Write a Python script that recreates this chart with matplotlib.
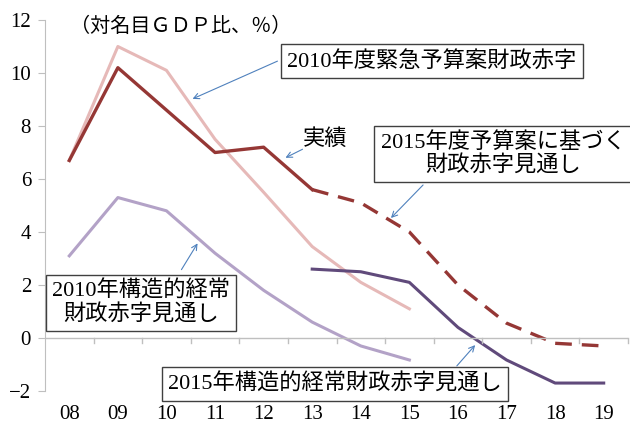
import numpy as np
import matplotlib
matplotlib.use('Agg')
import matplotlib.pyplot as plt

plt.rcParams['font.family'] = ['Liberation Serif', 'Noto Sans CJK JP']

# カテゴリ（年度）
years = ['08', '09', '10', '11', '12', '13', '14', '15', '16', '17', '18', '19']

# 2010年度緊急予算案財政赤字（08〜15）
plan2010 = [6.7, 11.0, 10.1, 7.5, 5.5, 3.45, 2.1, 1.1]
# 実績（08〜13）
actual = [6.7, 10.2, 8.6, 7.0, 7.2, 5.6]
# 2015年度予算案に基づく見通し（13〜19）
plan2015 = [5.6, 5.1, 4.0, 2.0, 0.56, -0.2, -0.3]
# 2010年構造的経常財政赤字見通し（08〜15）
struct2010 = [3.1, 5.3, 4.8, 3.2, 1.8, 0.6, -0.3, -0.83]
# 2015年構造的経常財政赤字見通し（13〜19）
struct2015 = [2.6, 2.5, 2.1, 0.4, -0.83, -1.7, -1.7]

W, H = 630, 423
fig = plt.figure(figsize=(W / 100, H / 100), dpi=100)
ax = fig.add_axes([45 / W, 1 - 391 / H, 583 / W, 371 / H])

x = np.arange(len(years))
ax.plot(x[:len(plan2010)], plan2010, color='#E6B9B8', lw=2.2)
ax.plot(x[:len(actual)], actual, color='#953735', lw=2.4)
ax.plot(x[5:5 + len(plan2015)], plan2015, color='#953735', lw=2.4, ls=(0, (5, 3)))
ax.plot(x[:len(struct2010)], struct2010, color='#B3A2C7', lw=2.2)
ax.plot(x[5:5 + len(struct2015)], struct2015, color='#604A7B', lw=2.2)

ax.set_xlim(-0.5, len(years) - 0.5)
ax.set_ylim(-2, 12)
ax.set_yticks(range(-2, 13, 2))
ax.set_yticklabels(['−2', '0', '2', '4', '6', '8', '10', '12'])

for s in ['top', 'right', 'bottom']:
    ax.spines[s].set_visible(False)
ax.spines['left'].set_color('#BFBFBF')
ax.axhline(0, color='#BFBFBF', lw=1)
# x軸の目盛り（0の線上、下向き）
for b in np.arange(0.5, len(years), 1):
    ax.plot([b, b], [0, -0.18], color='#BFBFBF', lw=1, clip_on=False)
ax.set_xticks(x)
ax.set_xticklabels(years)
ax.tick_params(axis='x', length=0, pad=10, labelsize=15)
ax.tick_params(axis='y', length=5, color='#BFBFBF', labelsize=15, pad=5)


def px(xp, yp):
    return (xp / W, 1 - yp / H)


arrow = dict(arrowstyle='->', color='#4F81BD', lw=0.8)
box = dict(boxstyle='square,pad=0.28', fc='white', ec='#404040', lw=1)
fs = 16

fig.text(*px(70, 27), '（対名目ＧＤＰ比、％）', fontsize=14.5, va='center', ha='left')

ax.annotate('', xy=px(190, 100), xycoords='figure fraction',
            xytext=px(280, 60), textcoords='figure fraction', arrowprops=arrow)
fig.text(*px(432, 61), '2010年度緊急予算案財政赤字', fontsize=fs, ha='center', va='center', bbox=box)

ax.annotate('', xy=px(283, 159), xycoords='figure fraction',
            xytext=px(305, 148), textcoords='figure fraction', arrowprops=arrow)
fig.text(*px(325, 140), '実績', fontsize=fs, ha='center', va='center')

ax.annotate('', xy=px(389, 220), xycoords='figure fraction',
            xytext=px(425, 183), textcoords='figure fraction', arrowprops=arrow)
fig.text(*px(503, 154), '2015年度予算案に基づく\n財政赤字見通し', fontsize=fs, ha='center',
         va='center', bbox=box, linespacing=1.15)

ax.annotate('', xy=px(199, 241), xycoords='figure fraction',
            xytext=px(180, 272), textcoords='figure fraction', arrowprops=arrow)
fig.text(*px(141, 303), '2010年構造的経常\n財政赤字見通し', fontsize=fs, ha='center',
         va='center', bbox=box, linespacing=1.15)

ax.annotate('', xy=px(477, 343), xycoords='figure fraction',
            xytext=px(455, 368), textcoords='figure fraction', arrowprops=arrow)
fig.text(*px(335, 384), '2015年構造的経常財政赤字見通し', fontsize=fs, ha='center',
         va='center', bbox=box)

fig.savefig('out.png', dpi=100)
